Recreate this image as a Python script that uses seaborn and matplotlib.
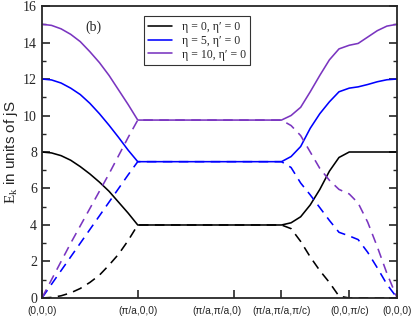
import seaborn as sns
import pandas as pd
import matplotlib.pyplot as plt
from matplotlib.lines import Line2D

# path positions along the k-path (in units of pi/a)
tick_pos = [0.0, 1.0, 2.0, 2.5, 3.207, 3.707]
tick_labels = ['(0,0,0)', '(\u03c0/a,0,0)', '(\u03c0/a,\u03c0/a,0)',
               '(\u03c0/a,\u03c0/a,\u03c0/c)', '(0,0,\u03c0/c)', '(0,0,0)']

x_left = [0.0, 0.1, 0.2, 0.3, 0.4, 0.5, 0.6, 0.7, 0.8, 0.9, 1.0, 2.5]
x_right = [2.6, 2.7, 2.8, 2.9, 3.0, 3.1, 3.207, 3.3, 3.4, 3.5, 3.6, 3.707]

# eta = 0
black_up = [8.0, 7.95, 7.8, 7.55, 7.2, 6.8, 6.35, 5.85, 5.25, 4.65, 4.0, 4.0,
            4.12, 4.45, 5.1, 5.95, 6.95, 7.7, 8.0, 8.0, 8.0, 8.0, 8.0, 8.0]
black_dn = [0.0, 0.03, 0.12, 0.28, 0.52, 0.85, 1.25, 1.8, 2.4, 3.15, 4.0, 4.0,
            3.8, 3.1, 2.25, 1.5, 0.85, 0.1, 0.0, 0.0, 0.0, 0.0, 0.0, 0.0]
# eta = 5
blue_up = [12.0, 11.95, 11.78, 11.5, 11.15, 10.67, 10.1, 9.47, 8.8, 8.1, 7.47, 7.47,
           7.75, 8.3, 9.3, 10.1, 10.75, 11.3, 11.5, 11.57, 11.7, 11.85, 11.96, 12.0]
blue_dn = [0.0, 0.75, 1.5, 2.25, 3.0, 3.75, 4.5, 5.25, 6.0, 6.75, 7.47, 7.47,
           7.15, 6.3, 5.65, 4.95, 4.25, 3.6, 3.4, 3.2, 2.5, 1.65, 0.75, 0.0]
# eta = 10
purple_up = [15.0, 14.94, 14.75, 14.45, 14.05, 13.5, 12.9, 12.2, 11.4, 10.6, 9.75, 9.75,
             10.0, 10.45, 11.3, 12.2, 13.05, 13.65, 13.85, 13.95, 14.3, 14.65, 14.9, 15.0]
purple_dn = [0.0, 1.0, 2.0, 3.0, 3.95, 4.9, 5.85, 6.8, 7.8, 8.8, 9.75, 9.75,
             9.45, 8.9, 8.0, 7.1, 6.45, 5.95, 5.7, 5.2, 4.15, 2.8, 1.35, 0.0]

labels = ['\u03b7 = 0, \u03b7\u2032 = 0', '\u03b7 = 5, \u03b7\u2032 = 0', '\u03b7 = 10, \u03b7\u2032 = 0']
colors = ['black', '#0000ff', '#7a35c0']

x_all = x_left + x_right
rows = []
for lab, up, dn in zip(labels, [black_up, blue_up, purple_up], [black_dn, blue_dn, purple_dn]):
    for x, e in zip(x_all, up):
        rows.append((x, e, lab, 'up'))
    for x, e in zip(x_all, dn):
        rows.append((x, e, lab, 'down'))
df = pd.DataFrame(rows, columns=['k', 'E', 'eta', 'branch'])

sns.set_style("ticks")
plt.rcParams['font.family'] = ['Liberation Serif', 'DejaVu Serif']
plt.rcParams['mathtext.fontset'] = 'custom'
plt.rcParams['mathtext.rm'] = 'Liberation Serif'

fig = plt.figure(figsize=(4.15, 3.17), dpi=100)
ax = fig.add_axes([0.101, 0.060, 0.856, 0.921])

for lab, c in zip(labels, colors):
    sub = df[df.eta == lab]
    sns.lineplot(data=sub[sub.branch == 'up'], x='k', y='E', color=c, lw=1.15,
                 sort=False, estimator=None, ax=ax)
    sns.lineplot(data=sub[sub.branch == 'down'], x='k', y='E', color=c, lw=1.15,
                 sort=False, estimator=None, ax=ax, linestyle=(0, (6, 4)))

ax.set_xlim(0, 3.707)
ax.set_ylim(0, 16)
ax.set_xticks(tick_pos)
sans = ['Liberation Sans', 'DejaVu Sans']
# the (pi/a,pi/a,0) label sits a bit left of its tick in the original
shown = [t if i != 2 else '' for i, t in enumerate(tick_labels)]
ax.set_xticklabels(shown, family=sans, fontsize=7.3)
ax.annotate(tick_labels[2], xy=(tick_pos[2], 0), xycoords=('data', 'axes fraction'),
            xytext=(-12, -5.5), textcoords='offset points', ha='center', va='top',
            family=sans, fontsize=7.3)
ax.set_yticks(range(0, 17, 2))
ax.set_yticks(range(1, 16, 2), minor=True)
ax.tick_params(axis='y', which='both', direction='in', right=True, labelsize=10)
ax.tick_params(axis='y', which='major', length=6, width=1.2)
ax.tick_params(axis='y', which='minor', length=3, width=1.0)
ax.tick_params(axis='x', direction='in', length=6, width=1.2, pad=5.5)
for s in ax.spines.values():
    s.set_linewidth(1.3)
ax.set_xlabel('')
ax.set_ylabel('$\\mathrm{E_k}$ in units of jS', family=sans, fontsize=11, labelpad=2)

ax.text(0.45, 14.65, '(b)', fontsize=10)
handles = [Line2D([], [], color=c, lw=1.15) for c in colors]
leg = ax.legend(handles, labels, loc='upper left', bbox_to_anchor=(0.27, 0.985),
                fontsize=8.5, frameon=True, fancybox=False, edgecolor='black',
                handlelength=2.0, labelspacing=0.15, borderpad=0.4, handletextpad=0.8)
leg.get_frame().set_linewidth(0.8)

fig.savefig('out.png', dpi=100)
